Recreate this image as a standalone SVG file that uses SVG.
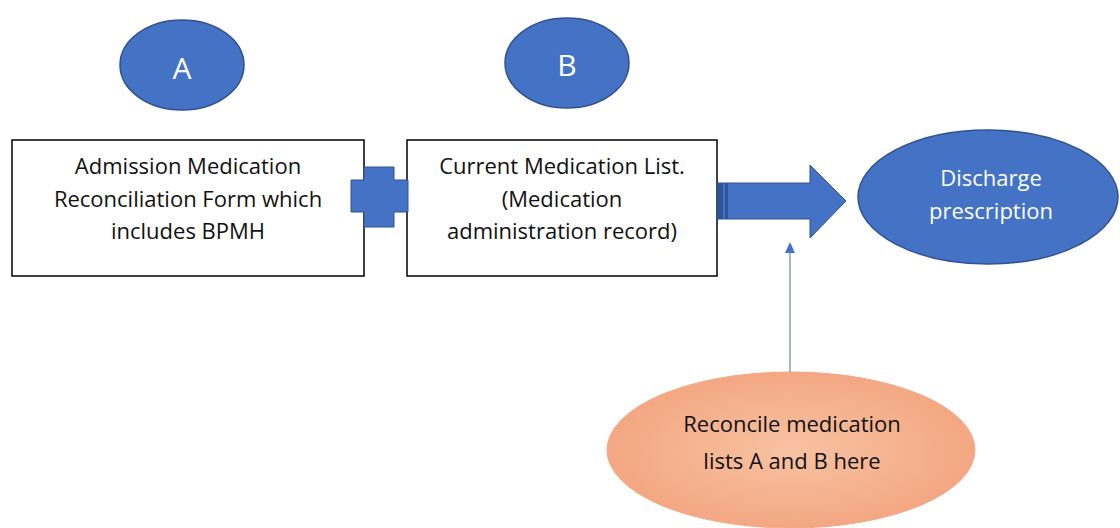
<svg xmlns="http://www.w3.org/2000/svg" width="1120" height="528" viewBox="0 0 1120 528">
<style>
.box{fill:#fff;stroke:#000;stroke-width:1.5}
.blue{fill:#4472C4;stroke:#2F528F;stroke-width:1.5}
.t{font-family:"Open Sans",Lato,sans-serif;font-size:22px;fill:#111;text-anchor:middle;font-variant-ligatures:none}
.w{fill:#fff}
</style>
<defs>
<radialGradient id="og" cx="50%" cy="50%" r="60%">
<stop offset="0" stop-color="#F8C2A2"/>
<stop offset="1" stop-color="#F2A27C"/>
</radialGradient>
</defs>
<g id="nodeA">
<ellipse class="blue" cx="182" cy="65" rx="62" ry="45"/>
<text class="t w" x="182" y="79" style="font-size:30px">A</text>
</g>
<g id="nodeB">
<ellipse class="blue" cx="567" cy="63" rx="62" ry="45"/>
<text class="t w" x="567" y="76" style="font-size:30px">B</text>
</g>
<g id="box1">
<rect class="box" x="12" y="140" width="352" height="136"/>
<text class="t" x="188" y="174">Admission Medication</text>
<text class="t" x="188" y="207">Reconciliation Form which</text>
<text class="t" x="188" y="239">includes BPMH</text>
</g>
<g id="box2">
<rect class="box" x="407" y="140" width="310" height="136"/>
<text class="t" x="562" y="174">Current Medication List.</text>
<text class="t" x="562" y="207">(Medication</text>
<text class="t" x="562" y="239">administration record)</text>
</g>
<g id="discharge">
<ellipse class="blue" cx="988" cy="197" rx="130" ry="67"/>
<text class="t w" x="991" y="186">Discharge</text>
<text class="t w" x="991" y="219">prescription</text>
</g>
<g id="reconcile">
<ellipse cx="791" cy="450" rx="184" ry="78" fill="url(#og)" stroke="#F4A886" stroke-width="1"/>
<text class="t" x="792" y="432">Reconcile medication</text>
<text class="t" x="792" y="469">lists A and B here</text>
</g>
<g id="connectors">
<path d="M351,180 H364 V167 H394 V180 H408 V212 H394 V227 H364 V212 H351 Z" fill="#4472C4" stroke="#2F528F" stroke-width="1"/>
<path d="M717,183 H810 V165 L846,201 L810,238 V219 H717 Z" fill="#4472C4" stroke="#2F528F" stroke-width="1"/>
<rect x="717" y="183" width="6" height="36" fill="#2F5597"/>
<rect x="725" y="183" width="3" height="36" fill="#2F5597"/>
<line x1="790" y1="372" x2="790" y2="252" stroke="#4472C4" stroke-width="1"/>
<polygon points="790,242 785,253 795,253" fill="#4472C4"/>
</g>
</svg>
